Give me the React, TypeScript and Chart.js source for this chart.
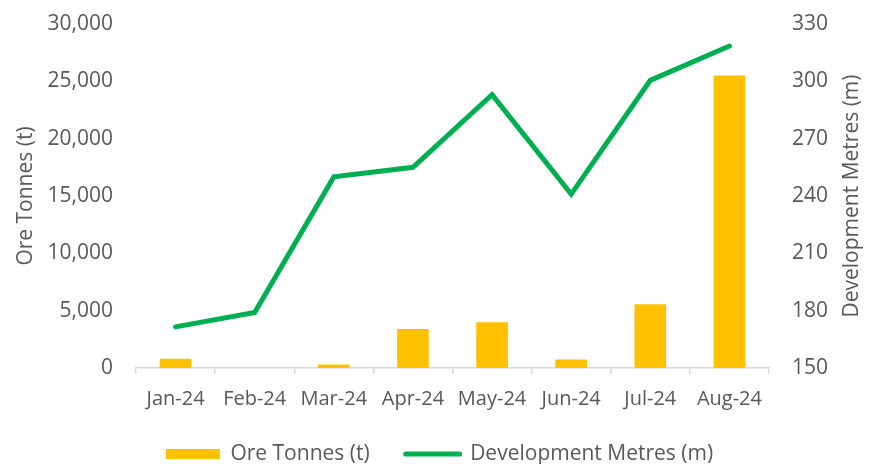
import React, { useEffect, useRef } from "react";
import { Chart, registerables } from "chart.js";

Chart.register(...registerables);

const categories = ["Jan-24", "Feb-24", "Mar-24", "Apr-24", "May-24", "Jun-24", "Jul-24", "Aug-24"];
const oreTonnes = [800, 0, 300, 3400, 4000, 750, 5550, 25500];
const devMetres = [171.5, 179, 250, 255, 293, 241, 300.5, 318.5];

const FONT = "'Open Sans', sans-serif";
const TEXT = "#595959";

const rightTitlePlugin = {
  id: "rightTitle",
  afterLayout(chart: any) {
    const lg = chart.legend;
    if (lg) {
      lg.top = 407.5;
      lg.bottom = 464;
    }
  },
  afterDraw(chart: any) {
    const { ctx, chartArea } = chart;
    ctx.save();
    ctx.font = `21px ${FONT}`;
    ctx.fillStyle = TEXT;
    ctx.textAlign = "center";
    ctx.textBaseline = "middle";
    ctx.translate(852, (chartArea.top + chartArea.bottom) / 2);
    ctx.rotate(-Math.PI / 2);
    ctx.fillText("Development Metres (m)", 0, 0);
    ctx.restore();
  },
};

export default function App() {
  const ref = useRef<HTMLCanvasElement>(null);
  useEffect(() => {
    document.body.style.margin = "0";
    const chart = new Chart(ref.current!, {
      type: "bar",
      data: {
        labels: categories,
        datasets: [
          {
            type: "bar",
            label: "Ore Tonnes (t)",
            data: oreTonnes,
            backgroundColor: "#FFC000",
            borderColor: "#FFC000",
            borderWidth: 0,
            barPercentage: 0.4,
            categoryPercentage: 1,
            yAxisID: "y",
            order: 2,
          },
          {
            type: "line",
            label: "Development Metres (m)",
            data: devMetres,
            borderColor: "#00B050",
            backgroundColor: "#00B050",
            borderWidth: 5,
            pointRadius: 0,
            borderCapStyle: "round",
            borderJoinStyle: "miter",
            yAxisID: "y1",
            order: 1,
          } as any,
        ],
      },
      options: {
        responsive: false,
        animation: false,
        maintainAspectRatio: false,
        layout: { padding: { top: 24, right: 0, left: 0, bottom: 0 } },
        plugins: {
          tooltip: { enabled: false },
          legend: {
            position: "bottom",
            maxHeight: 50,
            labels: {
              usePointStyle: true,
              pointStyleWidth: 54,
              boxHeight: 10,
              color: TEXT,
              font: { family: FONT, size: 21 },
              padding: 36,
              generateLabels(chart: any) {
                const items = Chart.defaults.plugins.legend.labels.generateLabels(chart);
                items.sort((a: any, b: any) => a.datasetIndex - b.datasetIndex);
                items.forEach((it: any) => {
                  if (it.datasetIndex === 0) {
                    it.pointStyle = "rect";
                    it.fillStyle = "#FFC000";
                    it.strokeStyle = "#FFC000";
                    it.lineWidth = 0;
                  } else {
                    it.pointStyle = "line";
                    it.strokeStyle = "#00B050";
                    it.lineWidth = 5;
                    it.lineCap = "round";
                  }
                });
                return items;
              },
            },
          },
        },
        scales: {
          x: {
            afterFit(s: any) { s.height = 46; },
            grid: {
              display: true,
              offset: true,
              drawOnChartArea: false,
              drawTicks: true,
              tickLength: 6,
              color: "#D9D9D9",
              lineWidth: 1.5,
            },
            border: { display: true, color: "#D9D9D9", width: 1.5 },
            ticks: { color: TEXT, font: { family: FONT, size: 20 }, padding: 13, maxRotation: 0, autoSkip: false },
          },
          y: {
            position: "left",
            min: 0,
            max: 30000,
            afterFit(s: any) { s.width = 136; s.paddingTop = 0; s.paddingBottom = 0; },
            grid: { display: false, drawTicks: false },
            border: { display: false },
            ticks: {
              stepSize: 5000,
              color: TEXT,
              padding: 23,
              font: { family: FONT, size: 21 },
              callback: (v: any) => Number(v).toLocaleString("en-US"),
            },
            title: {
              display: true,
              text: "Ore Tonnes (t)",
              color: TEXT,
              font: { family: FONT, size: 21 },
              padding: { top: 13, bottom: 0 },
            },
          },
          y1: {
            position: "right",
            min: 150,
            max: 330,
            afterFit(s: any) { s.width = 110; s.paddingTop = 0; s.paddingBottom = 0; },
            grid: { display: false, drawTicks: false },
            border: { display: false },
            ticks: {
              stepSize: 30,
              color: TEXT,
              padding: 23,
              font: { family: FONT, size: 21 },
            },
          },
        },
      },
      plugins: [rightTitlePlugin],
    });
    return () => chart.destroy();
  }, []);
  return (
    <div style={{ width: 879, height: 464, background: "#fff" }}>
      <canvas ref={ref} width={879} height={464} style={{ display: "block" }} />
    </div>
  );
}
